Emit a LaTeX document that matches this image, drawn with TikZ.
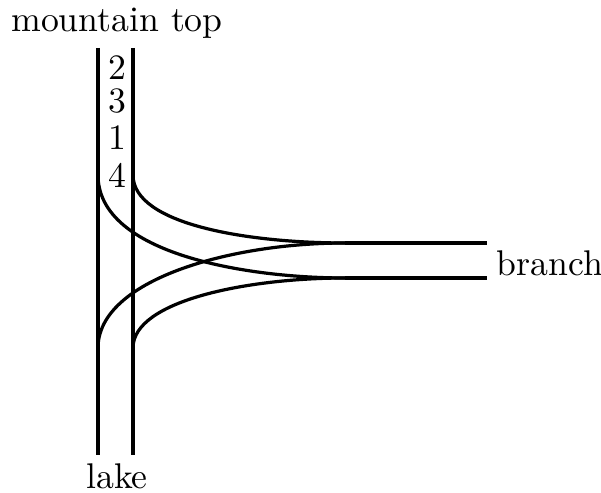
\documentclass[tikz,border=0pt]{standalone}
\usepackage{tikz}
\usetikzlibrary{positioning,calc}
\tikzset{
  tr rail/.style={line width=0.9pt, black},
  tr lbl/.style={font=\normalsize, inner sep=1pt},
}
\begin{document}
\begin{tikzpicture}[x=0.28pt, y=-0.28pt]
  \useasboundingbox (0,0) rectangle (601,493);
  % main rails
  \coordinate (lTop) at (98,48);   \coordinate (rTop) at (133,48);
  \coordinate (lBot) at (98,455);  \coordinate (rBot) at (133,455);
  \coordinate (lUp) at (98,175);   \coordinate (rUp) at (133,175);
  \coordinate (lDn) at (98,348);   \coordinate (rDn) at (133,348);
  \coordinate (bHi) at (345,243);  \coordinate (bLo) at (345,278);
  \coordinate (bHiE) at (487,243); \coordinate (bLoE) at (487,278);
  \draw[tr rail] (lTop) -- (lBot);
  \draw[tr rail] (rTop) -- (rBot);
  \draw[tr rail] (bHi) -- (bHiE);
  \draw[tr rail] (bLo) -- (bLoE);
  % switch curves
  \draw[tr rail] (lUp) .. controls (98,255) and (250,278) .. (bLo);
  \draw[tr rail] (rUp) .. controls (133,225) and (250,243) .. (bHi);
  \draw[tr rail] (lDn) .. controls (98,280) and (230,243) .. (bHi);
  \draw[tr rail] (rDn) .. controls (133,300) and (250,278) .. (bLo);
  % cars
  \foreach \n/\yy in {2/68, 3/101, 1/138, 4/175}
    \node[tr lbl] (car\n) at (117,\yy) {\n};
  \node[tr lbl] (top) at (117,23) {mountain top};
  \node[tr lbl] (lake) at (117,476) {lake};
  \node[tr lbl, anchor=west, inner sep=0pt] (branch) at (496,263) {branch};
\end{tikzpicture}
\end{document}
